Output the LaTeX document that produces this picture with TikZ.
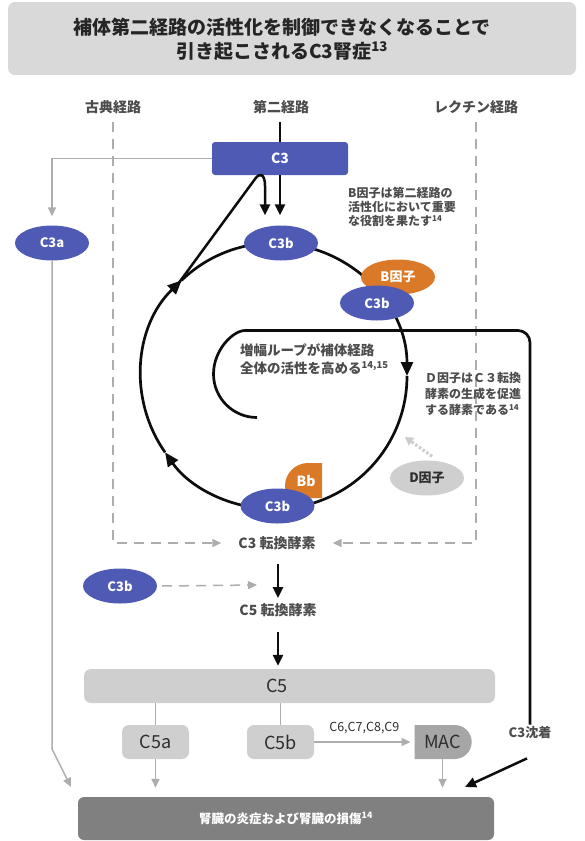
\documentclass[tikz,border=0pt]{standalone}
\usepackage{fontspec}
\setmainfont{Noto Sans CJK JP}
\usepackage{tikz}
\usetikzlibrary{calc, arrows.meta, positioning, shapes.geometric, shapes.misc}
\definecolor{mainBlack}{gray}{0.05}
\definecolor{subGray}{gray}{0.3}
\definecolor{textDark}{gray}{0.18}
\definecolor{lineGray}{gray}{0.68}
\definecolor{dotGray}{gray}{0.8}
\definecolor{titleGray}{gray}{0.85}
\definecolor{boxGray}{gray}{0.81}
\definecolor{macGray}{gray}{0.65}
\definecolor{damageGray}{gray}{0.5}
\definecolor{c3Blue}{RGB}{79,90,180}
\definecolor{bOrange}{RGB}{218,122,40}
\newcommand{\jsize}[2]{\fontsize{#1}{#2}\selectfont}

\begin{document}
\begin{tikzpicture}[x=1pt, y=-1pt,
    blueOval/.style={ellipse, fill=c3Blue, text=white, font=\bfseries\jsize{13}{15}, minimum width=74pt, minimum height=35pt, inner sep=0pt},
    orangeOval/.style={blueOval, fill=bOrange},
    grayOval/.style={blueOval, fill=boxGray, text=textDark},
    pathLabel/.style={text=subGray, font=\bfseries\jsize{14}{16}},
    noteText/.style={text=subGray, font=\bfseries\jsize{12}{14}, align=left, anchor=west, inner sep=0pt},
    c5Box/.style={rectangle, rounded corners=7pt, fill=boxGray, text=textDark, font=\jsize{18}{20}, minimum height=34pt, inner sep=0pt},
    blackArrow/.style={line width=2.5pt, mainBlack, -{Triangle[length=11pt,width=10pt]}},
    loopLine/.style={line width=2.7pt, mainBlack},
    loopArrow/.style={loopLine, -{Triangle[length=14pt,width=12pt]}},
    grayLine/.style={line width=1.5pt, lineGray},
    grayArrow/.style={grayLine, -{Triangle[length=9pt,width=8pt]}},
    dashArrow/.style={grayArrow, dash pattern=on 10pt off 7pt},
]
\useasboundingbox (0,0) rectangle (584,841);

% タイトル
\fill[titleGray, rounded corners=7pt] (8,2) rectangle (576,75);
\node[font=\bfseries\jsize{19}{24}, text=mainBlack!90, align=center] (title) at (282,39)
    {補体第二経路の活性化を制御できなくなることで\\引き起こされるC3腎症\textsuperscript{13}};

% 経路ラベル
\node[pathLabel] (classic) at (113,107) {古典経路};
\node[pathLabel] (alt) at (281,107) {第二経路};
\node[pathLabel] (lectin) at (476,107) {レクチン経路};

\coordinate (dashTL) at (113,122);
\coordinate (dashTR) at (476,122);
\coordinate (altTop) at (280,122);

\node[font=\bfseries\jsize{14}{16}, text=subGray, inner sep=2pt] (c3conv) at (277,543) {C3 転換酵素};
\draw[dashArrow] (dashTL) -- (dashTL |- c3conv) -- ([xshift=-15pt]c3conv.west);
\draw[dashArrow] (dashTR) -- (dashTR |- c3conv) -- ([xshift=15pt]c3conv.east);

% C3
\node[rectangle, rounded corners=3pt, fill=c3Blue, text=white, font=\bfseries\jsize{14}{16},
      minimum width=136pt, minimum height=33pt, inner sep=0pt] (C3) at (280,158.5) {C3};
\draw[line width=2.5pt, mainBlack] (altTop) -- (C3.north);

\node[blueOval] (C3a) at (52,243) {C3a};
\draw[grayArrow, shorten >=9pt] (C3.west) -- (C3.west -| C3a) -- (C3a.north);

% 増幅ループ
\coordinate (O) at (274,376);
\draw[loopArrow] ($(O)+(-90:133)$) arc[start angle=-90, end angle=0, radius=133];
\draw[loopArrow] ($(O)+(0:133)$) arc[start angle=0, end angle=145, radius=133];
\draw[loopArrow] ($(O)+(145:133)$) arc[start angle=145, end angle=226, radius=133];
\draw[loopLine] ($(O)+(226:133)$) arc[start angle=226, end angle=270, radius=133];

\node[blueOval] (C3bTop) at (281,243) {C3b};
\draw[blackArrow, shorten >=10pt] (C3.south) -- (C3.south |- C3bTop.north);
\coordinate (hookStart) at (178,284);
\draw[blackArrow, shorten >=10pt] (hookStart) -- (255,179) .. controls (260,172) and (265,174) .. (265,186)
    -- ($(C3bTop.north)+(-16,0)$);

\node[noteText] (Bnote) at (348,207) {B因子は第二経路の\\活性化において重要\\な役割を果たす\textsuperscript{14}};

\node[orangeOval] (Bfac) at (398,277) {B因子};
\node[blueOval] (C3bB) at (377,303) {C3b};

% Bb
\fill[bOrange] (322,463) -- (308,463) arc[start angle=270, end angle=180, radius=23] -- (285,498) -- (322,498) -- cycle;
\node[blueOval] (C3bBb) at (277.5,506) {C3b};
\node[text=white, font=\bfseries\jsize{14}{16}, inner sep=0pt] (Bb) at (306,481) {Bb};

% 内側のループと C3 沈着
\node[font=\bfseries\jsize{13}{15}, text=subGray, inner sep=2pt] (dep) at (530,733) {C3沈着};
\draw[loopLine, rounded corners=12pt] (257,417.5) arc[start angle=90, end angle=270, radius=43.5]
    -- (530,330.5) -- (dep.north);
\coordinate (depTip) at (465,787);
\draw[blackArrow] ([xshift=-3pt,yshift=-17pt]dep.south) -- (depTip);

\node[noteText, font=\bfseries\jsize{13.5}{18}] (ampNote) at (240,359) {増幅ループが補体経路\\全体の活性を高める\textsuperscript{14,15}};
\node[noteText, font=\bfseries\jsize{12}{16}] (Dnote) at (425,394) {Ｄ因子はＣ３転換\\酵素の生成を促進\\する酵素である\textsuperscript{14}};

\node[grayOval] (Dfac) at (427,478) {D因子};
\coordinate (Dtip) at (405,437);
\draw[line width=3pt, dotGray, dash pattern=on 2.5pt off 2pt, -{Triangle[length=8pt,width=9pt]}]
    ([xshift=5pt,yshift=4pt]Dfac.north) -- (Dtip);

% C5 転換酵素
\node[blueOval] (C3bL) at (120,586) {C3b};
\node[font=\bfseries\jsize{14}{16}, text=subGray, inner sep=2pt] (c5conv) at (278,610) {C5 転換酵素};
\coordinate (dashTip) at (257,585);
\draw[dashArrow] ([xshift=5pt]C3bL.east) -- (dashTip);
\draw[blackArrow, shorten <=12pt, shorten >=3pt] (c3conv.south -| c5conv) -- (c5conv.north);

\node[c5Box, minimum width=411pt] (C5) at (289.5,686) {};
\node[text=textDark, font=\jsize{18}{20}] (C5txt) at (277,686) {C5};
\draw[blackArrow, shorten <=13pt, shorten >=3pt] (c5conv.south) -- (c5conv |- C5.north);

\node[c5Box, minimum width=67pt] (C5a) at (155.5,742) {C5a};
\node[c5Box, minimum width=67pt] (C5b) at (280.5,742) {C5b};
\node[rounded rectangle, rounded rectangle left arc=none, fill=macGray, text=textDark,
      font=\jsize{18}{20}, minimum width=57pt, minimum height=34pt, inner sep=0pt] (MAC) at (442.5,742) {MAC};
\draw[grayLine] (C5.south -| C5a) -- (C5a.north);
\draw[grayLine] (C5.south -| C5b) -- (C5b.north);
\draw[grayArrow, shorten >=4pt] (C5b.east) -- (MAC.west)
    node[midway, above=4pt, text=textDark, font=\jsize{12.5}{14}] (cLabel) {C6,C7,C8,C9};

% 腎臓の損傷
\node[rectangle, rounded corners=6pt, fill=damageGray, text=white, font=\bfseries\jsize{12.5}{14},
      minimum width=416pt, minimum height=43pt, inner sep=0pt] (damage) at (286,818.5)
    {腎臓の炎症および腎臓の損傷\textsuperscript{14}};
\draw[grayArrow, shorten >=9pt] (C5a.south) -- (C5a.south |- damage.north);
\draw[grayArrow, shorten >=9pt] (MAC.south) -- (MAC.south |- damage.north);
\coordinate (grayEnd) at (71,787);
\draw[grayArrow] (C3a.south) -- (52,749) -- (grayEnd);
\end{tikzpicture}
\end{document}
